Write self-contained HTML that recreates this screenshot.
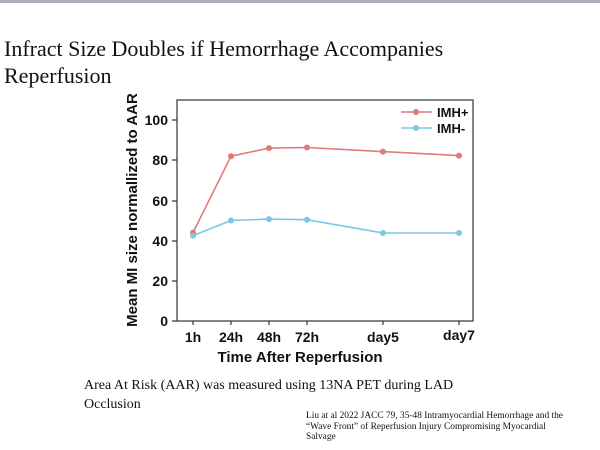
<!DOCTYPE html>
<html><head><style>
body{margin:0;width:600px;height:450px;background:#fff;position:relative;overflow:hidden;font-family:"Liberation Serif",serif}
.bar{position:absolute;left:0;top:0;width:600px;height:3px;background:#aab0ba}
.t{position:absolute;left:4px;font-size:22px;line-height:27px;color:#111}
.s{position:absolute;left:84px;font-size:14px;line-height:19px;color:#111}
.c{position:absolute;left:306px;top:411px;font-size:9.4px;line-height:10.7px;color:#111;white-space:nowrap}
</style></head><body>
<div class="bar"></div>
<div class="t" style="top:35px">Infract Size Doubles if Hemorrhage Accompanies<br>Reperfusion</div>
<svg width="600" height="450" style="position:absolute;left:0;top:0" font-family="Liberation Sans, sans-serif" font-weight="bold">
<rect x="177" y="100" width="296" height="221" fill="none" stroke="#333" stroke-width="1.2"/>
<g stroke="#333" stroke-width="1.2">
<line x1="172" y1="321" x2="177" y2="321"/><line x1="172" y1="281" x2="177" y2="281"/><line x1="172" y1="241" x2="177" y2="241"/><line x1="172" y1="201" x2="177" y2="201"/><line x1="172" y1="160" x2="177" y2="160"/><line x1="172" y1="120" x2="177" y2="120"/>
<line x1="193" y1="321" x2="193" y2="325"/><line x1="231" y1="321" x2="231" y2="325"/><line x1="269" y1="321" x2="269" y2="325"/><line x1="307" y1="321" x2="307" y2="325"/><line x1="383" y1="321" x2="383" y2="325"/><line x1="459" y1="321" x2="459" y2="325"/>
</g>
<g font-size="14" text-anchor="end" fill="#111">
<text x="168" y="326">0</text><text x="168" y="286">20</text><text x="168" y="246">40</text><text x="168" y="206">60</text><text x="168" y="165">80</text><text x="168" y="125">100</text>
</g>
<g font-size="14" text-anchor="middle" fill="#111">
<text x="193" y="342">1h</text><text x="231" y="342">24h</text><text x="269" y="342">48h</text><text x="307" y="342">72h</text><text x="383" y="342">day5</text><text x="459" y="340">day7</text>
</g>
<text x="300" y="362" font-size="15" text-anchor="middle" fill="#111">Time After Reperfusion</text>
<text transform="translate(137,210) rotate(-90)" font-size="15" text-anchor="middle" fill="#111">Mean MI size normallized to AAR</text>
<polyline fill="none" stroke="#e07a7a" stroke-width="1.6" points="193,232.6 231,156.2 269,148.1 307,147.5 383,151.6 459,155.6"/>
<polyline fill="none" stroke="#7cc6e6" stroke-width="1.6" points="193,235.6 231,220.5 269,219.1 307,219.7 383,233 459,233"/>
<g fill="#e07a7a"><circle cx="193" cy="232.6" r="3"/><circle cx="231" cy="156.2" r="3"/><circle cx="269" cy="148.1" r="3"/><circle cx="307" cy="147.5" r="3"/><circle cx="383" cy="151.6" r="3"/><circle cx="459" cy="155.6" r="3"/></g>
<g fill="#7cc6e6"><circle cx="193" cy="235.6" r="3"/><circle cx="231" cy="220.5" r="3"/><circle cx="269" cy="219.1" r="3"/><circle cx="307" cy="219.7" r="3"/><circle cx="383" cy="233" r="3"/><circle cx="459" cy="233" r="3"/></g>
<line x1="401" y1="112" x2="432" y2="112" stroke="#e07a7a" stroke-width="1.6"/><circle cx="416" cy="112" r="3" fill="#e07a7a"/>
<line x1="401" y1="128" x2="432" y2="128" stroke="#7cc6e6" stroke-width="1.6"/><circle cx="416" cy="128" r="3" fill="#7cc6e6"/>
<text x="437" y="117" font-size="13" fill="#111">IMH+</text>
<text x="437" y="133" font-size="13" fill="#111">IMH-</text>
</svg>
<div class="s" style="top:376px">Area At Risk (AAR) was measured using 13NA PET during LAD<br>Occlusion</div>
<div class="c">Liu at al 2022 JACC 79, 35-48 Intramyocardial Hemorrhage and the<br>“Wave Front” of Reperfusion Injury Compromising Myocardial<br>Salvage</div>
</body></html>
